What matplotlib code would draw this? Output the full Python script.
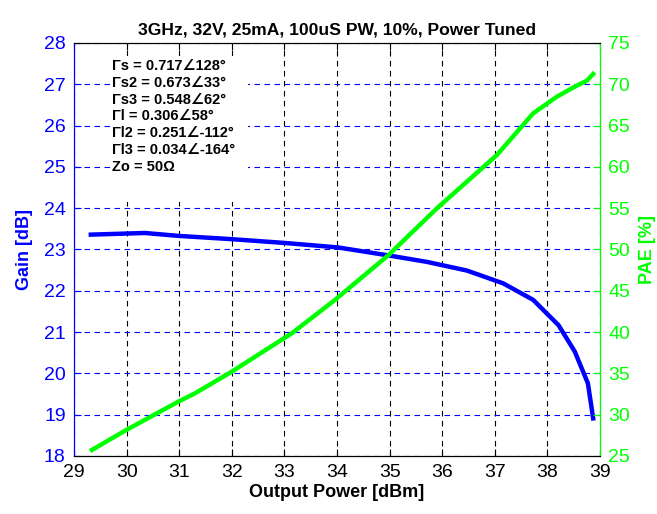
import matplotlib
matplotlib.use("Agg")
import matplotlib.pyplot as plt
from matplotlib.patches import Rectangle

plt.rcParams['font.family'] = ['Liberation Sans', 'DejaVu Sans']

title = "3GHz, 32V, 25mA, 100uS PW, 10%, Power Tuned"
xlabel = "Output Power [dBm]"
ylabel_left = "Gain [dB]"
ylabel_right = "PAE [%]"

pout_gain = [29.32, 30.35, 30.98, 32.00, 32.99, 34.02, 35.01, 35.71, 36.47, 37.16, 37.73, 38.21, 38.52, 38.77, 38.87]
gain = [23.36, 23.40, 23.33, 23.25, 23.16, 23.05, 22.85, 22.70, 22.49, 22.18, 21.78, 21.17, 20.53, 19.76, 18.91]

pout_pae = [29.34, 29.97, 30.98, 31.30, 32.00, 32.99, 33.14, 33.96, 34.98, 35.90, 37.04, 37.73, 38.18, 38.52, 38.75, 38.87]
pae = [25.73, 28.06, 31.57, 32.59, 35.21, 39.25, 39.85, 43.89, 49.33, 54.99, 61.44, 66.49, 68.50, 69.71, 70.44, 71.25]

notes = ["Γs = 0.717∠128°", "Γs2 = 0.673∠33°", "Γs3 = 0.548∠62°",
         "Γl = 0.306∠58°", "Γl2 = 0.251∠-112°", "Γl3 = 0.034∠-164°", "Zo = 50Ω"]

W, H = 657, 514
BLUE = (0, 0, 1)
GREEN = (0, 1, 0)
fig = plt.figure(figsize=(W/100, H/100), dpi=100)
ax1 = fig.add_axes([74/W, (H-456)/H, (600-74)/W, (456-43)/H])
ax2 = ax1.twinx()

ax1.plot(pout_gain, gain, color=BLUE, lw=3.2, zorder=3)
ax2.plot(pout_pae, pae, color=GREEN, lw=3.2, zorder=3)

ax1.set_xlim(29, 39)
ax1.set_ylim(18, 28)
ax2.set_ylim(25, 75)
ax1.set_xticks(range(29, 40))
ax1.set_yticks(range(18, 29))
ax2.set_yticks(range(25, 76, 5))

ax1.grid(True, axis='x', color='black', linestyle=(0, (5, 4)), lw=0.8)
ax1.grid(True, axis='y', color=BLUE, linestyle=(0, (5, 4)), lw=0.8)
ax1.set_axisbelow(True)

# white box behind the annotation block
ax1.add_patch(Rectangle((111/W, 1 - 202/H), (248-111)/W, (202-56)/H,
                        transform=fig.transFigure, facecolor='white',
                        edgecolor='none', zorder=2))

ax1.tick_params(axis='x', direction='in', colors='black', labelsize=14, top=True, length=5, pad=6)
ax1.tick_params(axis='y', direction='in', colors=BLUE, labelsize=14, length=5, pad=6)
ax2.tick_params(axis='y', direction='in', colors=GREEN, labelsize=14, length=5, pad=6)

for a in (ax1, ax2):
    a.spines['left'].set_color(BLUE)
    a.spines['right'].set_color(GREEN)
    a.spines['top'].set_color('black')
    a.spines['bottom'].set_color('black')

ax1.set_xlabel(xlabel, fontsize=13, fontweight='bold', labelpad=2)
ax1.set_ylabel(ylabel_left, fontsize=13, fontweight='bold', color=BLUE, labelpad=8)
ax2.set_ylabel(ylabel_right, fontsize=13, fontweight='bold', color=GREEN, labelpad=6)
ax1.set_title(title, fontsize=12.6, fontweight='bold', pad=6)

for i, t in enumerate(notes):
    ax1.text(112/W, 1 - (66 + i*16.8)/H, t, transform=fig.transFigure,
             fontsize=10.5, fontweight='bold', va='center', ha='left', zorder=5)

fig.savefig("out.png", dpi=100)
